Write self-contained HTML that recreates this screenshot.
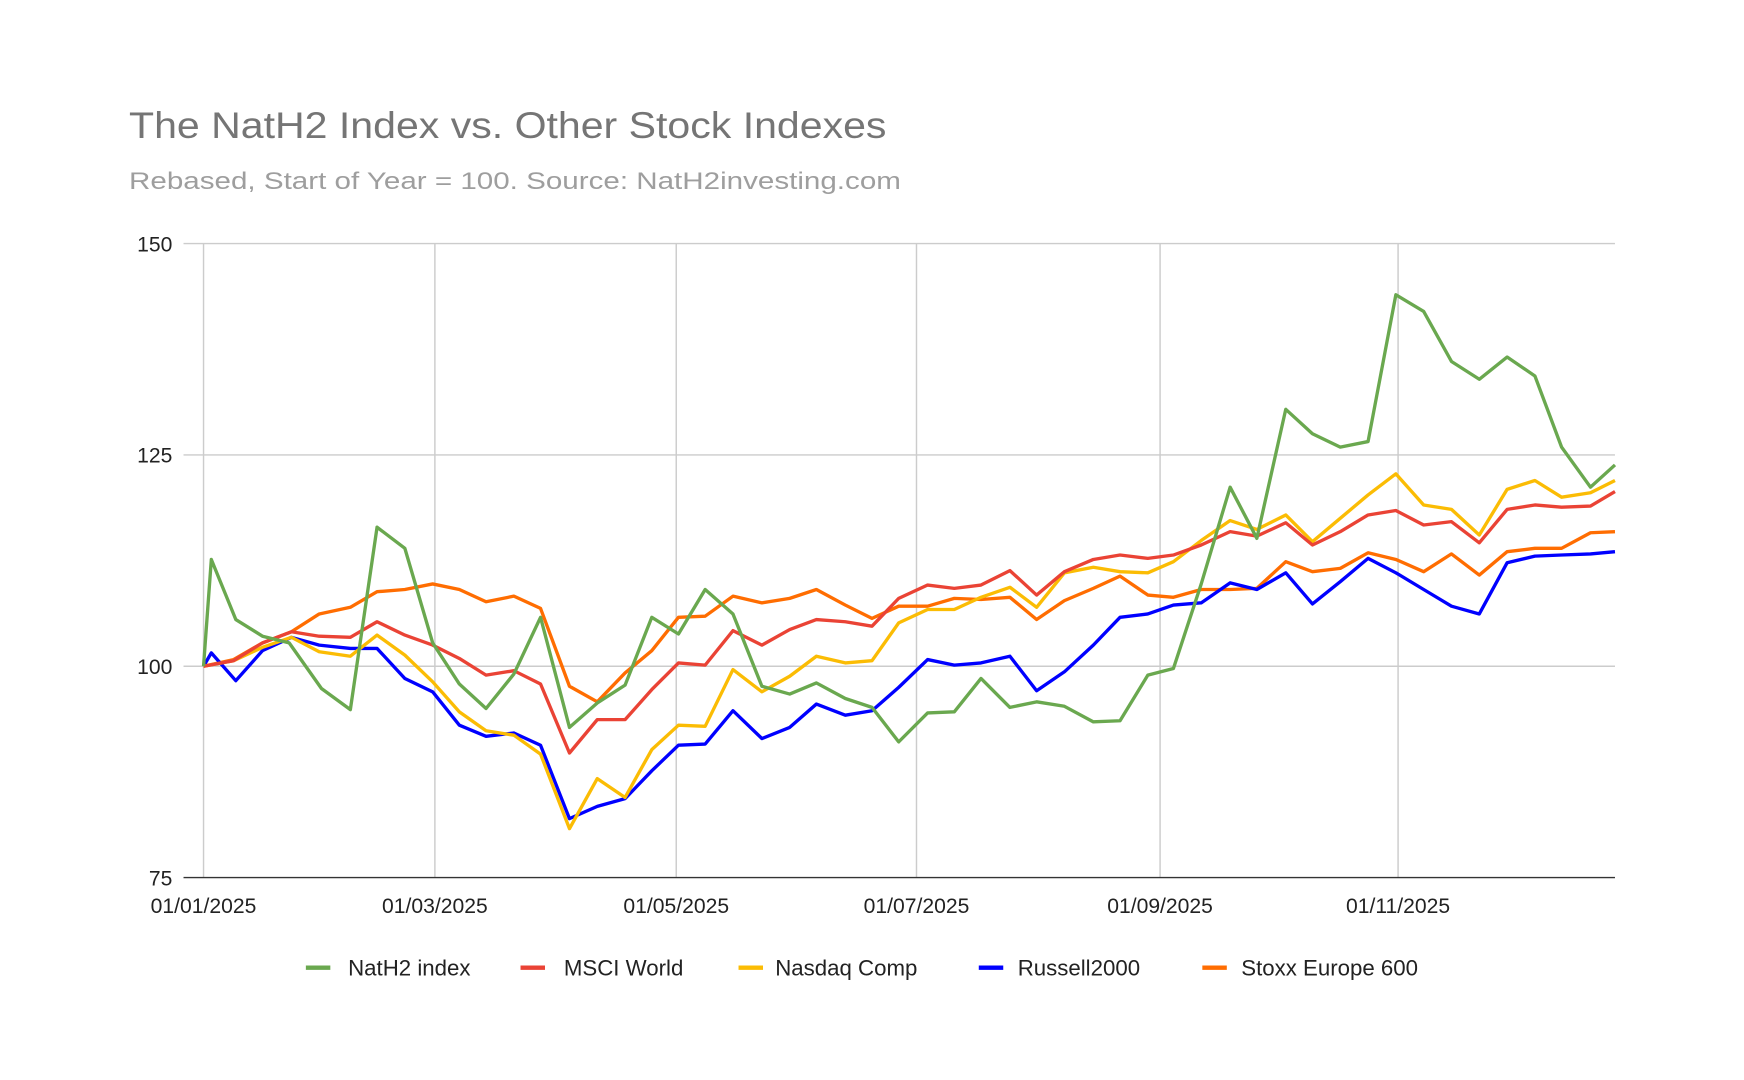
<!DOCTYPE html>
<html><head><meta charset="utf-8"><style>html,body{margin:0;padding:0;background:#fff}svg{display:block}</style></head>
<body>
<svg width="1744" height="1080" viewBox="0 0 1568 971" preserveAspectRatio="none" xmlns="http://www.w3.org/2000/svg" font-family="Liberation Sans, Arial, sans-serif">
<rect width="1568" height="971" fill="#fff"/>
<text x="116" y="124" font-size="33" fill="#757575" textLength="681" lengthAdjust="spacingAndGlyphs">The NatH2 Index vs. Other Stock Indexes</text>
<text x="116" y="170" font-size="22" fill="#9e9e9e" textLength="694" lengthAdjust="spacingAndGlyphs">Rebased, Start of Year = 100. Source: NatH2investing.com</text>
<g stroke="#cccccc" stroke-width="1.3">
<line x1="165" y1="219" x2="1452" y2="219"/><line x1="165" y1="409" x2="1452" y2="409"/><line x1="165" y1="599" x2="1452" y2="599"/>
<line x1="183" y1="219" x2="183" y2="789"/><line x1="391" y1="219" x2="391" y2="789"/><line x1="608" y1="219" x2="608" y2="789"/><line x1="824" y1="219" x2="824" y2="789"/><line x1="1043" y1="219" x2="1043" y2="789"/><line x1="1257" y1="219" x2="1257" y2="789"/>
</g>
<line x1="165" y1="789" x2="1452" y2="789" stroke="#333" stroke-width="1.3"/>
<g font-size="19" fill="#222" text-anchor="end">
<text x="155" y="226">150</text><text x="155" y="416">125</text><text x="155" y="606">100</text><text x="155" y="796">75</text>
</g>
<g font-size="19" fill="#222" text-anchor="middle">
<text x="183" y="821">01/01/2025</text><text x="391" y="821">01/03/2025</text><text x="608" y="821">01/05/2025</text><text x="824" y="821">01/07/2025</text><text x="1043" y="821">01/09/2025</text><text x="1257" y="821">01/11/2025</text>
</g>
<g fill="none" stroke-width="3" stroke-linejoin="round">
<polyline stroke="#ff6d01" points="183,599 210,593 236,578 262,568 287,552 315,546 339,532 364,530 389,525 413,530 437,541 462,536 486,547 512,617 537,631 562,605 586,585 610,555 634,554 659,536 685,542 710,538 734,530 760,544 784,556 808,545 834,545 858,538 882,539 908,537 932,557 957,540 983,529 1007,518 1032,535 1055,537 1080,530 1106,530 1130,529 1156,505 1180,514 1205,511 1230,497 1255,503 1280,514 1305,498 1330,517 1355,496 1380,493 1404,493 1430,479 1452,478"/>
<polyline stroke="#0000ff" points="183,599 190,587 212,612 236,585 262,573 287,580 315,583 339,583 364,610 389,622 413,652 437,662 462,659 486,670 512,736 537,725 562,718 586,693 610,670 634,669 659,639 685,664 710,654 734,633 760,643 784,639 808,618 834,593 858,598 882,596 908,590 932,621 957,604 983,580 1007,555 1032,552 1055,544 1080,542 1106,524 1130,530 1156,515 1180,543 1205,523 1230,502 1255,515 1280,530 1305,545 1330,552 1355,506 1380,500 1404,499 1430,498 1452,496"/>
<polyline stroke="#fbbc04" points="183,599 210,594 236,582 262,573 287,586 315,590 339,571 364,589 389,613 413,640 437,657 462,661 486,678 512,745 537,700 562,717 586,674 610,652 634,653 659,602 685,622 710,608 734,590 760,596 784,594 808,560 834,548 858,548 882,537 908,528 932,546 957,515 983,510 1007,514 1032,515 1055,505 1080,486 1106,468 1130,476 1156,463 1180,487 1205,466 1230,445 1255,426 1280,454 1305,458 1330,481 1355,440 1380,432 1404,447 1430,443 1452,432"/>
<polyline stroke="#ea4335" points="183,599 210,594 236,578 262,568 287,572 315,573 339,559 364,571 389,580 413,592 437,607 462,603 486,615 512,677 537,647 562,647 586,620 610,596 634,598 659,567 685,580 710,566 734,557 760,559 784,563 808,538 834,526 858,529 882,526 908,513 932,535 957,514 983,503 1007,499 1032,502 1055,499 1080,490 1106,478 1130,482 1156,470 1180,490 1205,478 1230,463 1255,459 1280,472 1305,469 1330,488 1355,458 1380,454 1404,456 1430,455 1452,442"/>
<polyline stroke="#6aa84f" points="183,599 190,503 212,557 236,572 260,578 289,619 315,638 339,474 364,493 389,578 413,615 437,637 462,606 486,555 512,654 537,632 562,616 586,555 610,570 634,530 659,552 685,617 710,624 734,614 760,628 784,636 808,667 834,641 858,640 882,610 908,636 932,631 957,635 983,649 1007,648 1032,607 1055,601 1080,525 1106,438 1130,484 1156,368 1180,390 1205,402 1230,397 1255,265 1280,280 1305,325 1330,341 1355,321 1380,338 1404,402 1430,438 1452,418"/>
</g>
<g stroke-width="4">
<line x1="275" y1="870" x2="297" y2="870" stroke="#6aa84f"/>
<line x1="468" y1="870" x2="490" y2="870" stroke="#ea4335"/>
<line x1="664" y1="870" x2="686" y2="870" stroke="#fbbc04"/>
<line x1="880" y1="870" x2="902" y2="870" stroke="#0000ff"/>
<line x1="1081" y1="870" x2="1103" y2="870" stroke="#ff6d01"/>
</g>
<g font-size="20" fill="#222">
<text x="313" y="877">NatH2 index</text>
<text x="507" y="877">MSCI World</text>
<text x="697" y="877">Nasdaq Comp</text>
<text x="915" y="877">Russell2000</text>
<text x="1116" y="877">Stoxx Europe 600</text>
</g>
</svg>
</body></html>
